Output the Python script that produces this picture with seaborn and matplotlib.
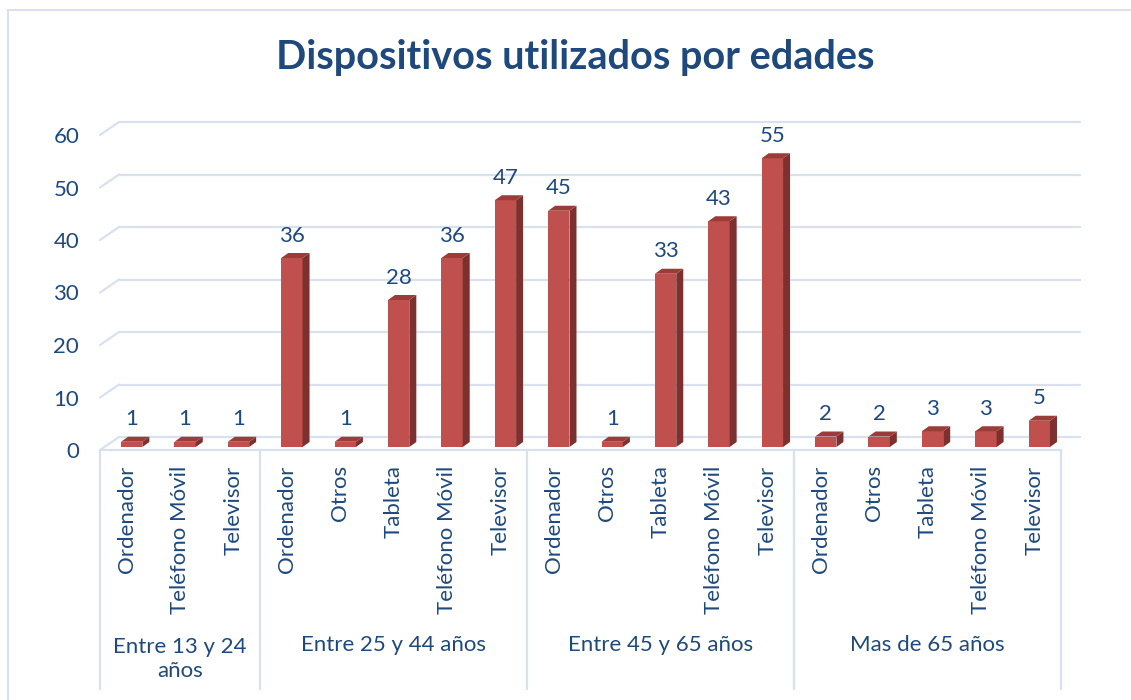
import matplotlib
matplotlib.use("Agg")
import matplotlib.pyplot as plt
import matplotlib.transforms as mtransforms
from matplotlib.patches import Polygon, Rectangle
from matplotlib.lines import Line2D
import seaborn as sns
import pandas as pd

GROUPS = ["Entre 13 y 24\naños", "Entre 25 y 44 años", "Entre 45 y 65 años", "Mas de 65 años"]
DEVICES = [
    ["Ordenador", "Teléfono Móvil", "Televisor"],
    ["Ordenador", "Otros", "Tableta", "Teléfono Móvil", "Televisor"],
    ["Ordenador", "Otros", "Tableta", "Teléfono Móvil", "Televisor"],
    ["Ordenador", "Otros", "Tableta", "Teléfono Móvil", "Televisor"],
]
VALUES = [
    [1, 1, 1],
    [36, 1, 28, 36, 47],
    [45, 1, 33, 43, 55],
    [2, 2, 3, 3, 5],
]
Y_TICKS = [0, 10, 20, 30, 40, 50, 60]

TEXT_BLUE = "#1F497D"
BAR_FRONT = "#C0504D"
BAR_SIDE = "#7E302E"
BAR_TOP = "#9C3B38"
GRID = "#D9E1EE"
FS = 16

rows = []
for g, devs, vals in zip(GROUPS, DEVICES, VALUES):
    for d, v in zip(devs, vals):
        rows.append({"grupo": g, "dispositivo": d, "valor": v})
df = pd.DataFrame(rows)
df["slot"] = range(len(df))

sns.set_style("white")
plt.rcParams["font.family"] = ["Lato", "DejaVu Sans"]

W, H, DPI = 1131, 700, 100
fig = plt.figure(figsize=(W / DPI, H / DPI), dpi=DPI)
ax = fig.add_axes([100 / W, 250 / H, 961 / W, 315 / H])

n = len(df)
ax.set_xlim(-0.5, n - 0.5)
ax.set_ylim(0, 60)


def px_shift(dx, dy):
    return mtransforms.ScaledTranslation(dx / DPI, dy / DPI, fig.dpi_scale_trans)


back = ax.transData + px_shift(19, 13)
bar_t = ax.transData + px_shift(5, 3)

# back-wall gridlines, with the short diagonal on the left wall
for v in Y_TICKS:
    ax.add_line(Line2D([-0.5, n - 0.5], [v, v], transform=back, color=GRID,
                       lw=1.6, clip_on=False, zorder=0))
    p0 = ax.transData.transform((-0.5, v))
    p1 = back.transform((-0.5, v))
    ax.add_line(Line2D([p0[0], p1[0]], [p0[1], p1[1]], transform=None,
                       color=GRID, lw=1.6, clip_on=False, zorder=0))
ax.add_line(Line2D([-0.5, n - 0.5], [0, 0], color=GRID, lw=1.6, clip_on=False, zorder=0))

sns.barplot(data=df, x="slot", y="valor", color=BAR_FRONT, saturation=1,
            width=0.4, ax=ax, zorder=3)

ux = 961 / n      # px per slot
uy = 315 / 60     # px per unit
ddx, ddy = 7 / ux, 5 / uy
for p in list(ax.patches):
    p.set_transform(bar_t)
    p.set_edgecolor("none")
    x0, w, h = p.get_x(), p.get_width(), p.get_height()
    side = Polygon([(x0 + w, 0), (x0 + w + ddx, ddy), (x0 + w + ddx, h + ddy), (x0 + w, h)],
                   closed=True, facecolor=BAR_SIDE, edgecolor="none",
                   transform=bar_t, zorder=3, clip_on=False)
    top = Polygon([(x0, h), (x0 + w, h), (x0 + w + ddx, h + ddy), (x0 + ddx, h + ddy)],
                  closed=True, facecolor=BAR_TOP, edgecolor="none",
                  transform=bar_t, zorder=3, clip_on=False)
    ax.add_patch(side)
    ax.add_patch(top)
    ax.annotate(f"{h:.0f}", (x0 + w / 2, h), xycoords=bar_t, xytext=(0, 9),
                textcoords="offset points", ha="center", va="bottom",
                fontsize=FS, color=TEXT_BLUE, annotation_clip=False)

ax.set_xticks(df["slot"])
ax.set_xticklabels(df["dispositivo"], rotation=90, fontsize=FS, color=TEXT_BLUE)
ax.set_yticks(Y_TICKS)
ax.set_yticklabels([str(t) for t in Y_TICKS], fontsize=FS, color=TEXT_BLUE)
ax.tick_params(axis="x", length=0, pad=11)
ax.tick_params(axis="y", length=0, pad=15)
ax.set_xlabel("")
ax.set_ylabel("")
for s in ax.spines.values():
    s.set_visible(False)

# group separators and group labels under the device names
fig_y = mtransforms.blended_transform_factory(ax.transData, fig.transFigure)
start = 0
bounds = [-0.5]
for g, devs in zip(GROUPS, DEVICES):
    end = start + len(devs)
    bounds.append(end - 0.5)
    ypx = 659 if "\n" in g else 645
    ax.text((start + end - 1) / 2, 1 - ypx / H, g, transform=fig_y, ha="center",
            va="center", fontsize=FS, color=TEXT_BLUE,
            linespacing=1.3, multialignment="center")
    start = end
for b in bounds:
    ax.add_line(Line2D([b, b], [1 - 450 / H, 1 - 689 / H], transform=fig_y,
                       color=GRID, lw=1.6, clip_on=False))

fig.text(575 / W, 1 - 57 / H, "Dispositivos utilizados por edades", ha="center",
         va="center", fontsize=28.5, fontweight="bold", color=TEXT_BLUE)

fig.patches.append(Rectangle((8 / W, -0.1), 1.2, 1 - 10 / H + 0.1, transform=fig.transFigure,
                             fill=False, edgecolor=GRID, lw=1.5))

fig.savefig("out.png", dpi=DPI)
